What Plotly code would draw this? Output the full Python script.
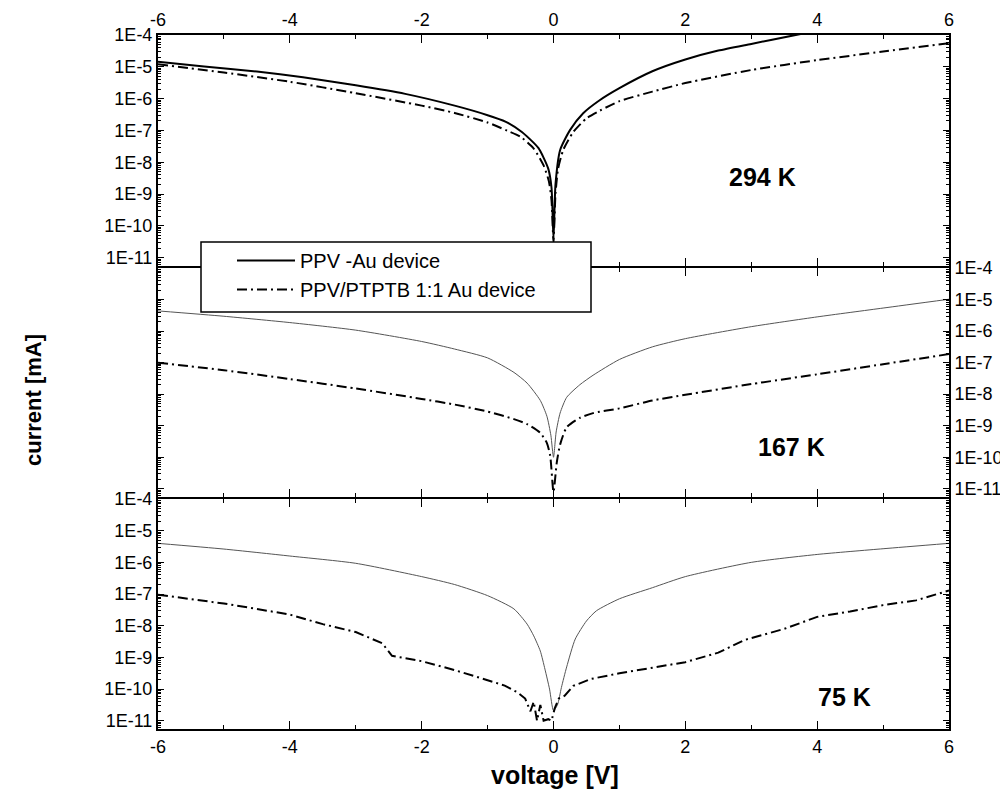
import plotly.graph_objects as go

# ---------------- data (log10 of current in mA) ----------------
v_294 = [-6, -5.3, -4.5, -3.8, -3, -2.25, -1.5, -1, -0.73, -0.48, -0.23, -0.08, -0.03, 0,
         0.03, 0.1, 0.25, 0.45, 0.7, 1, 1.5, 2, 2.5, 3, 3.6, 4, 5, 6]
ppv_294 = [-4.84, -4.99, -5.15, -5.33, -5.58, -5.85, -6.22, -6.52, -6.72, -7.05, -7.55, -8.20, -8.80, -10.4,
           -8.70, -7.62, -6.99, -6.46, -6.05, -5.67, -5.14, -4.77, -4.49, -4.28, -4.03, -3.87, -3.50, -3.15]
v_294b = [-6, -5, -4, -3, -2, -1.5, -1, -0.7, -0.5, -0.3, -0.15, -0.07, -0.03, 0,
          0.03, 0.07, 0.15, 0.3, 0.5, 0.7, 1, 1.5, 2, 3, 4, 5, 6]
blend_294 = [-4.92, -5.18, -5.47, -5.83, -6.22, -6.45, -6.75, -7.01, -7.20, -7.57, -8.10, -8.60, -9.20, -10.5,
             -9.00, -8.20, -7.60, -7.05, -6.62, -6.38, -6.08, -5.78, -5.51, -5.10, -4.79, -4.52, -4.26]

v_167 = [-6, -5, -4, -3, -2, -1.5, -1, -0.6, -0.4, -0.2, -0.1, -0.04, 0,
         0.04, 0.1, 0.2, 0.4, 0.6, 1, 1.5, 2, 3, 4, 5, 6]
ppv_167 = [-5.36, -5.53, -5.73, -5.97, -6.33, -6.57, -6.85, -7.31, -7.65, -8.20, -8.70, -9.30, -10.0,
           -9.20, -8.60, -8.10, -7.70, -7.40, -6.90, -6.50, -6.24, -5.86, -5.55, -5.27, -4.99]
v_167b = [-6, -5, -4, -3, -2, -1.5, -1, -0.6, -0.4, -0.2, -0.1, -0.05, 0,
          0.05, 0.1, 0.2, 0.4, 0.6, 1, 1.5, 2, 3, 4, 5, 6]
blend_167 = [-7.00, -7.24, -7.52, -7.82, -8.15, -8.33, -8.55, -8.79, -8.95, -9.23, -9.55, -9.95, -11.1,
             -10.16, -9.60, -9.05, -8.75, -8.60, -8.45, -8.20, -8.02, -7.68, -7.37, -7.05, -6.73]

v_75 = [-6, -5, -4, -3, -2, -1.5, -1, -0.6, -0.4, -0.3, -0.2, -0.13, -0.06, 0,
        0.06, 0.12, 0.2, 0.33, 0.5, 0.65, 1, 1.5, 2, 3, 4, 5, 6]
ppv_75 = [-5.40, -5.58, -5.80, -6.03, -6.45, -6.70, -7.05, -7.47, -7.95, -8.32, -8.80, -9.37, -10.0, -10.68,
          -10.5, -9.95, -9.30, -8.42, -7.85, -7.53, -7.15, -6.80, -6.45, -6.00, -5.75, -5.57, -5.40]
v_75b = [-6, -5.5, -5, -4.5, -4, -3.5, -3, -2.6, -2.45, -2, -1.5, -1, -0.74, -0.55, -0.43, -0.35,
         -0.3, -0.25, -0.2, -0.15, -0.08, -0.03, 0.02, 0.08, 0.17, 0.3, 0.57, 1, 1.35, 2, 2.5,
         2.9, 3.5, 4, 4.5, 5, 5.5, 6]
blend_75 = [-7.02, -7.15, -7.30, -7.47, -7.65, -7.95, -8.20, -8.55, -8.95, -9.12, -9.40, -9.72, -9.89, -10.1,
            -10.3, -10.7, -10.4, -11.0, -10.5, -11.0, -10.95, -11.0, -10.6, -10.3, -10.21, -9.90, -9.68,
            -9.50, -9.37, -9.15, -8.85, -8.45, -8.10, -7.72, -7.55, -7.35, -7.20, -6.89]

x_ticks = [-6, -4, -2, 0, 2, 4, 6]
x_ticktext = ["-6", "-4", "-2", "0", "2", "4", "6"]
y_exps = [-4, -5, -6, -7, -8, -9, -10, -11]
y_ticktext = ["1E-4", "1E-5", "1E-6", "1E-7", "1E-8", "1E-9", "1E-10", "1E-11"]
name_ppv = "PPV -Au device"
name_blend = "PPV/PTPTB 1:1 Au device"
temps = ["294 K", "167 K", "75 K"]

# ---------------- figure ----------------
FONT = "Liberation Sans, Arial, sans-serif"
DASHDOT = "10px,4px,2px,4px"
OFF = 8  # default page body margin of the html page

# plot area in page pixels
PL, PR, PT, PB = 158, 949, 35, 729
W, Hpx = PR - PL, PB - PT


def lin(vals):
    return [10 ** v for v in vals]


def px_x(px):
    return (px - PL) / float(W)


def px_y(py):
    return (PB - py) / float(Hpx)


fig = go.Figure()
fig.add_trace(go.Scatter(x=v_294, y=lin(ppv_294), mode="lines", name=name_ppv,
                         line=dict(color="black", width=2, shape="spline", smoothing=0.6),
                         xaxis="x", yaxis="y"))
fig.add_trace(go.Scatter(x=v_294b, y=lin(blend_294), mode="lines", name=name_blend,
                         line=dict(color="black", width=2, dash=DASHDOT, shape="spline", smoothing=0.6),
                         xaxis="x", yaxis="y"))
fig.add_trace(go.Scatter(x=v_167, y=lin(ppv_167), mode="lines", showlegend=False,
                         line=dict(color="#555555", width=1, shape="spline", smoothing=0.6),
                         xaxis="x2", yaxis="y2"))
fig.add_trace(go.Scatter(x=v_167b, y=lin(blend_167), mode="lines", showlegend=False,
                         line=dict(color="black", width=2, dash=DASHDOT, shape="spline", smoothing=0.6),
                         xaxis="x2", yaxis="y2"))
fig.add_trace(go.Scatter(x=v_75, y=lin(ppv_75), mode="lines", showlegend=False,
                         line=dict(color="#555555", width=1, shape="spline", smoothing=0.6),
                         xaxis="x3", yaxis="y3"))
fig.add_trace(go.Scatter(x=v_75b, y=lin(blend_75), mode="lines", showlegend=False,
                         line=dict(color="black", width=2, dash=DASHDOT),
                         xaxis="x3", yaxis="y3"))

common_x = dict(range=[-6, 6], tickmode="array", tickvals=x_ticks, ticktext=x_ticktext,
                ticks="inside", ticklen=8, tickwidth=1.2, tickcolor="black",
                showline=True, linecolor="black", linewidth=2, mirror="allticks",
                showgrid=False, zeroline=False, automargin=False,
                tickfont=dict(family=FONT, size=18, color="black"),
                minor=dict(tickmode="linear", tick0=-6, dtick=1, ticks="inside", ticklen=4,
                           tickcolor="black", tickwidth=1.2, showgrid=False))
common_y = dict(type="log", range=[-11.26, -4], tickmode="array",
                tickvals=[10 ** e for e in y_exps], ticktext=y_ticktext,
                ticks="inside", ticklen=6, tickwidth=1.2, tickcolor="black",
                showline=True, linecolor="black", linewidth=2, mirror="allticks",
                showgrid=False, zeroline=False, automargin=False,
                tickfont=dict(family=FONT, size=18, color="black"),
                minor=dict(tickmode="linear", dtick="D1", ticks="inside", ticklen=3,
                           tickcolor="black", tickwidth=1, showgrid=False))

fig.update_layout(
    width=1008 - OFF, height=797 - OFF,
    margin=dict(l=PL - OFF, r=1008 - PR, t=PT - OFF, b=797 - PB, autoexpand=False),
    paper_bgcolor="white", plot_bgcolor="white",
    font=dict(family=FONT, color="black"),
    xaxis=dict(common_x, domain=[0, 1], anchor="y", side="top"),
    yaxis=dict(common_y, domain=[px_y(266), 1], anchor="x", side="left"),
    xaxis2=dict(common_x, domain=[0, 1], anchor="y2", showticklabels=False),
    yaxis2=dict(common_y, domain=[px_y(497), px_y(268)], anchor="x2", side="right"),
    xaxis3=dict(common_x, domain=[0, 1], anchor="y3", side="bottom"),
    yaxis3=dict(common_y, domain=[0, px_y(499)], anchor="x3", side="left"),
    showlegend=True,
    legend=dict(x=px_x(232), y=px_y(241), xanchor="left", yanchor="top",
                bgcolor="rgba(0,0,0,0)", borderwidth=0, tracegroupgap=0, itemwidth=58,
                font=dict(family=FONT, size=20, color="black")),
)

# legend frame (white box covering the panel border)
fig.add_shape(type="rect", xref="paper", yref="paper",
              x0=px_x(201), x1=px_x(591), y0=px_y(312), y1=px_y(242),
              line=dict(color="black", width=1.5), fillcolor="white", layer="above")

ann = []
for txt, px, py in zip(temps, [762, 791, 844], [177, 447, 697]):
    ann.append(dict(text="<b>%s</b>" % txt, xref="paper", yref="paper",
                    x=px_x(px), y=px_y(py), showarrow=False,
                    xanchor="center", yanchor="middle",
                    font=dict(family=FONT, size=25, color="black")))
ann.append(dict(text="<b>voltage [V]</b>", xref="paper", yref="paper",
                x=px_x(555), y=px_y(775), showarrow=False,
                xanchor="center", yanchor="middle",
                font=dict(family=FONT, size=25, color="black")))
ann.append(dict(text="<b>current [mA]</b>", xref="paper", yref="paper",
                x=px_x(33), y=px_y(400), showarrow=False, textangle=-90,
                xanchor="center", yanchor="middle",
                font=dict(family=FONT, size=22, color="black")))
fig.update_layout(annotations=ann)

fig.write_html("out.html")
